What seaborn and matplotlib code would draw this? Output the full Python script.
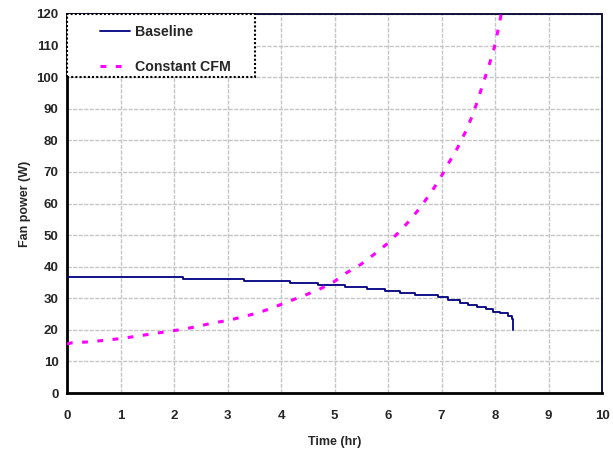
import matplotlib
matplotlib.use("Agg")
import matplotlib.pyplot as plt
from matplotlib.patches import Rectangle
import seaborn as sns
import pandas as pd

# Data
baseline_t = [0, 2.17, 3.31, 4.17, 4.70, 5.20, 5.60, 5.94, 6.22, 6.50, 6.93, 7.12,
              7.35, 7.50, 7.66, 7.84, 7.97, 8.09, 8.25, 8.31, 8.34]
baseline_w = [36.8, 36.2, 35.6, 34.9, 34.3, 33.7, 32.9, 32.3, 31.6, 30.9, 30.3, 29.3,
              28.5, 27.9, 27.3, 26.6, 25.8, 25.3, 24.5, 23.5, 20.0]

cfm_t = [0, 0.09, 0.43, 0.71, 0.99, 1.27, 1.58, 1.86, 2.14, 2.42, 2.73, 3.02, 3.30,
         3.58, 3.89, 4.16, 4.44, 4.71, 4.98, 5.22, 5.50, 5.74, 5.98, 6.19, 6.41, 6.61,
         6.80, 6.97, 7.13, 7.29, 7.44, 7.57, 7.68, 7.78, 7.88, 7.98, 8.05, 8.11, 8.16]
cfm_w = [15.5, 15.9, 16.2, 16.7, 17.2, 17.9, 18.7, 19.4, 20.1, 21.0, 22.2, 23.0, 24.2,
         25.4, 27.3, 29.1, 30.9, 32.8, 35.1, 38.0, 40.8, 43.9, 47.2, 50.7, 54.7, 58.9,
         63.4, 67.8, 72.7, 77.3, 82.4, 87.5, 92.8, 98.2, 103.3, 108.9, 114.4, 119.5, 122.0]

series_labels = ["Baseline", "Constant CFM"]
x_ticks = list(range(0, 11))
y_ticks = list(range(0, 121, 10))

sns.set_style("white")
plt.rcParams["font.family"] = ["Liberation Sans", "DejaVu Sans"]
plt.rcParams["font.weight"] = "bold"

fig = plt.figure(figsize=(6.13, 4.57), dpi=100)
ax = fig.add_axes([67/613, 64/457, 535/613, 379/457])

df_b = pd.DataFrame({"t": baseline_t, "w": baseline_w})
df_c = pd.DataFrame({"t": cfm_t, "w": cfm_w})

sns.lineplot(data=df_b, x="t", y="w", ax=ax, color="#000080", linewidth=1.3,
             drawstyle="steps-post", label=series_labels[0], zorder=3)
sns.lineplot(data=df_c, x="t", y="w", ax=ax, color="#FF00FF", linewidth=2.2,
             label=series_labels[1], zorder=3)
ax.lines[-1].set_linestyle((0, (1.9, 3.1)))

ax.set_xlim(0, 10)
ax.set_ylim(0, 120)
ax.set_xticks(x_ticks)
ax.set_yticks(y_ticks)
ax.set_xticklabels([str(v) for v in x_ticks], fontsize=9.5, fontweight="bold")
ax.set_yticklabels([str(v) for v in y_ticks], fontsize=9.5, fontweight="bold")
ax.set_xlabel("Time (hr)", fontsize=9, fontweight="bold", labelpad=10)
ax.set_ylabel("Fan power (W)", fontsize=9, fontweight="bold", labelpad=4)

ax.grid(True, color="#c6c6c6", linestyle=(0, (3, 1)), linewidth=1.0, zorder=0)
ax.set_axisbelow(True)

for side in ["left", "bottom"]:
    ax.spines[side].set_color("black")
    ax.spines[side].set_linewidth(2.0)
for side in ["top", "right"]:
    ax.spines[side].set_color("#000030")
    ax.spines[side].set_linewidth(1.3)
    ax.spines[side].set_linestyle((0, (1, 1)))

ax.tick_params(axis="y", direction="out", length=3, width=1.2, color="black", pad=3)
ax.tick_params(axis="x", direction="inout", length=5, width=1.2, color="black", pad=10)

# Legend frame (dotted box anchored at the top-left corner of the plot area)
box_w = 188 / 535
box_h = 63 / 379
frame = Rectangle((0, 1 - box_h), box_w, box_h, transform=ax.transAxes,
                  facecolor="white", edgecolor="black", linewidth=1.5,
                  linestyle=(0, (1, 1)), zorder=4, clip_on=False)
ax.add_patch(frame)

leg = ax.legend(loc="upper left", bbox_to_anchor=(33 / 535, 1 - 11 / 379),
                borderaxespad=0, borderpad=0, frameon=False, fontsize=10.2,
                handlelength=2.1, labelspacing=1.45, handletextpad=0.4)
leg.set_zorder(5)
for text in leg.get_texts():
    text.set_fontweight("bold")

fig.savefig("out.png", dpi=100)
